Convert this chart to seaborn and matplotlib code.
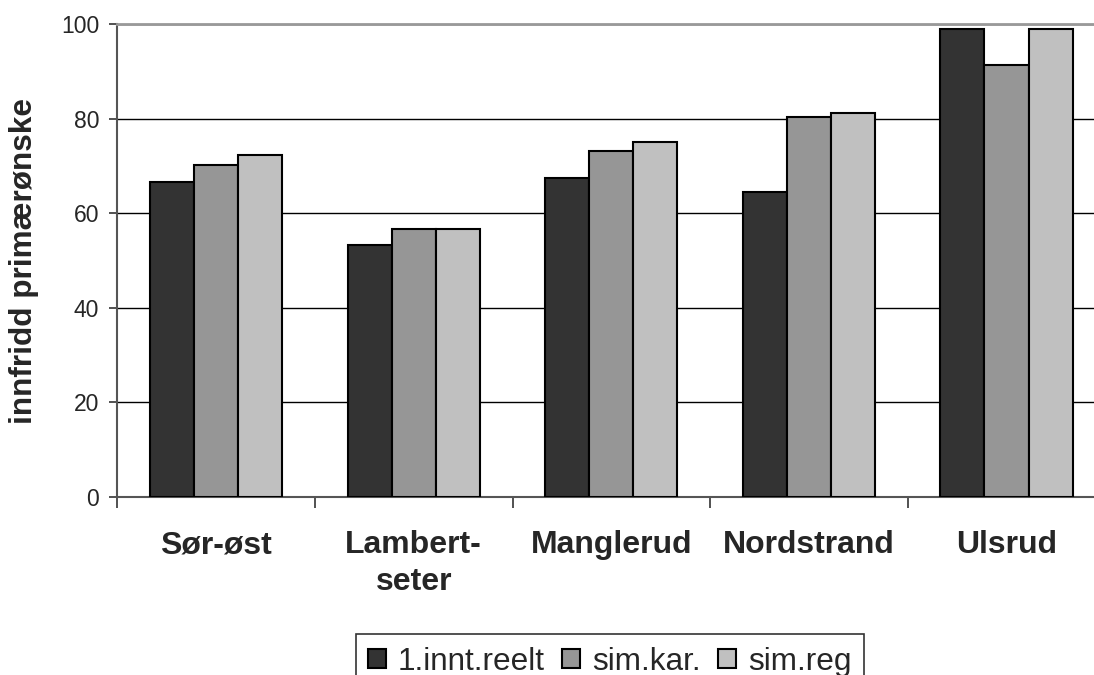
import numpy as np
import pandas as pd
import matplotlib
matplotlib.use("Agg")
import matplotlib.pyplot as plt
import seaborn as sns

# ------ data --------------------
districts = ["Sør-øst", "Lambert-\nseter", "Manglerud", "Nordstrand", "Ulsrud"]
series = ["1.innt.reelt", "sim.kar.", "sim.reg"]
reelt = [66.7, 53.3, 67.4, 64.5, 98.9]
sim_kar = [70.2, 56.7, 73.2, 80.3, 91.3]
sim_reg = [72.2, 56.7, 75.0, 81.2, 98.9]
colors = ["#333333", "#969696", "#c0c0c0"]

df = pd.DataFrame({
    "district": districts * 3,
    "serie": [series[0]] * 5 + [series[1]] * 5 + [series[2]] * 5,
    "value": reelt + sim_kar + sim_reg,
})

sns.set_style("white")
plt.rcParams["font.family"] = ["Liberation Sans", "DejaVu Sans"]

fig = plt.figure(figsize=(10.94, 6.75), dpi=100)
ax = fig.add_axes([117.3 / 1094, 1 - 497 / 675, 988 / 1094, 473 / 675])

sns.barplot(data=df, x="district", y="value", hue="serie", palette=colors,
            width=0.67, gap=0, edgecolor="black", linewidth=1.5,
            saturation=1, ax=ax, zorder=3)

ax.set_ylim(0, 100)
ax.set_xlim(-0.5, 4.5)
ax.set_yticks([0, 20, 40, 60, 80, 100])
ax.yaxis.grid(True, color="black", linewidth=1, zorder=0)
ax.set_axisbelow(True)

# group labels at centre, tick marks at boundaries
ax.set_xticks(range(5))
ax.set_xticklabels(districts, fontsize=23, fontweight="bold", linespacing=1.3)
ax.set_xticks(np.arange(-0.5, 5, 1), minor=True)
ax.tick_params(axis="x", which="major", length=0, pad=24)
ax.tick_params(axis="x", which="minor", length=8, width=1.2, color="#333333",
               direction="out", bottom=True)
ax.tick_params(axis="y", length=6, width=1.2, color="#333333", direction="out",
               left=True, labelsize=16.5, pad=7)

for s in ["left", "bottom"]:
    ax.spines[s].set_color("#555555")
    ax.spines[s].set_linewidth(1.5)
ax.spines["top"].set_color("#999999")
ax.spines["top"].set_linewidth(2)
ax.spines["right"].set_visible(False)

ax.set_xlabel("")
ax.set_ylabel("innfridd primærønske", fontsize=22.7, fontweight="bold", labelpad=16)

handles, labels = ax.get_legend_handles_labels()
ax.get_legend().remove()
leg = fig.legend(handles, labels, loc="upper center", bbox_to_anchor=(610 / 1094, 1 - 634 / 675),
                 ncol=3, fontsize=22.7, frameon=True, fancybox=False, edgecolor="black",
                 handlelength=0.55, handleheight=0.55, handletextpad=0.4, columnspacing=0.55,
                 borderpad=0.4, borderaxespad=0)
leg.get_frame().set_linewidth(1.2)

fig.savefig("out.png", dpi=100)
